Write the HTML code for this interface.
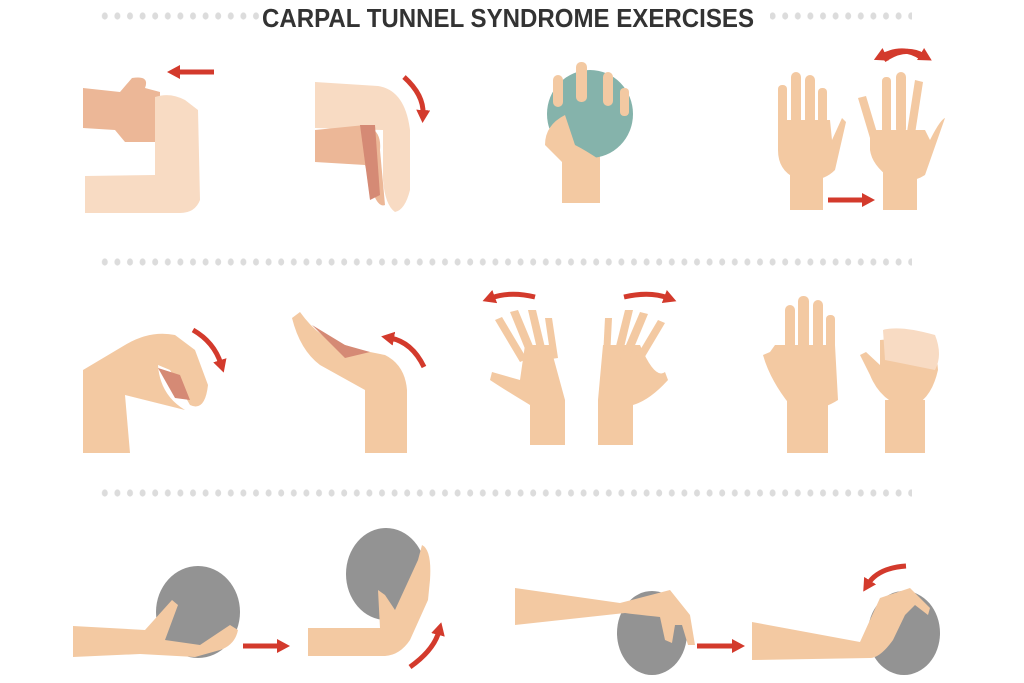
<!DOCTYPE html>
<html><head><meta charset="utf-8"><style>
html,body{margin:0;padding:0;background:#fff}
svg{display:block}
</style></head><body>
<svg width="1024" height="683" viewBox="0 0 1024 683" xmlns="http://www.w3.org/2000/svg">
<defs>
<pattern id="dots" x="0" y="0" width="12.6" height="683" patternUnits="userSpaceOnUse">
<ellipse cx="4" cy="16" rx="3" ry="3.6" fill="#dcdcdc"/>
<ellipse cx="4" cy="262" rx="3" ry="3.6" fill="#dcdcdc"/>
<ellipse cx="4" cy="493" rx="3" ry="3.6" fill="#dcdcdc"/>
</pattern>
<marker id="ah" markerUnits="userSpaceOnUse" markerWidth="13" markerHeight="14" refX="4" refY="7" orient="auto"><path d="M0,0 L13,7 L0,14 z" fill="#d33a2c"/></marker>
</defs>
<!-- dots -->
<rect x="96" y="10" width="164" height="12" fill="url(#dots)"/>
<rect x="770" y="10" width="142" height="12" fill="url(#dots)"/>
<rect x="96" y="256" width="816" height="12" fill="url(#dots)"/>
<rect x="96" y="487" width="816" height="12" fill="url(#dots)"/>
<text x="508" y="27" text-anchor="middle" font-family="Liberation Sans, sans-serif" font-weight="bold" font-size="26" fill="#333" textLength="492" lengthAdjust="spacingAndGlyphs">CARPAL TUNNEL SYNDROME EXERCISES</text>

<g stroke="#d33a2c" stroke-width="5" fill="none" marker-end="url(#ah)">
<!-- row1 arrows -->
<line x1="214" y1="72" x2="176" y2="72"/>
<path d="M404,77 Q424,95 423,114"/>
<line x1="828" y1="200" x2="866" y2="200"/>
<path d="M884,60 Q905,45 924,56"/>
<path d="M922,58 Q905,45 882,56"/>
<!-- row2 -->
<path d="M193,330 Q214,342 221,364"/>
<path d="M424,367 Q412,342 390,338"/>
<path d="M535,297 Q510,291 491,298"/>
<path d="M624,297 Q650,291 668,298"/>
<!-- row3 -->
<line x1="243" y1="646" x2="281" y2="646"/>
<path d="M410,667 Q434,650 439,631"/>
<line x1="697" y1="646" x2="736" y2="646"/>
<path d="M906,566 Q878,568 868,584"/>
</g>

<!-- Fig1 -->
<path d="M83,88 L120,92 L132,78 Q150,75 145,88 L160,92 L160,142 L125,142 L115,130 L83,128 Z" fill="#ecb797"/>
<path d="M155,97 Q170,92 185,100 L198,110 L200,200 Q195,213 180,213 L85,213 L85,176 L155,175 Z" fill="#f8dbc3"/>
<!-- Fig2 -->
<path d="M315,82 L378,86 Q405,90 410,130 L410,190 Q405,210 395,212 Q385,205 383,180 L383,130 L315,128 Z" fill="#f8dbc3"/>
<path d="M315,130 L365,125 Q382,130 380,150 L385,205 Q378,208 372,190 L365,165 L315,162 Z" fill="#ecb797"/>
<path d="M360,125 L375,125 L380,195 L370,200 Z" fill="#d58a75"/>
<!-- Fig3 -->
<rect x="562" y="150" width="38" height="53" fill="#f3c9a2"/>
<ellipse cx="590" cy="114" rx="43" ry="44" fill="#85b3ab"/>
<path d="M565,115 Q545,125 545,145 L565,165 L600,160 Q585,150 575,145 Z" fill="#f3c9a2"/>
<rect x="553" y="75" width="10" height="32" rx="5" fill="#f3c9a2"/>
<rect x="576" y="62" width="11" height="40" rx="5" fill="#f3c9a2"/>
<rect x="603" y="72" width="10" height="34" rx="5" fill="#f3c9a2"/>
<rect x="620" y="88" width="9" height="28" rx="4" fill="#f3c9a2"/>
<!-- Fig4 -->
<g fill="#f3c9a2">
<rect x="790" y="170" width="33" height="40" />
<path d="M778,120 L830,120 L832,140 L842,118 L846,122 L835,170 Q820,185 795,178 Q778,170 778,150 Z"/>
<rect x="778" y="85" width="9" height="50" rx="4"/><rect x="791" y="72" width="10" height="60" rx="5"/><rect x="805" y="75" width="10" height="58" rx="5"/><rect x="818" y="88" width="9" height="45" rx="4"/>
<rect x="883" y="170" width="34" height="40"/>
<path d="M870,130 L925,130 L930,140 Q940,120 945,118 L925,175 Q910,185 890,178 Q872,165 870,150 Z"/>
<path d="M858,98 l8,-2 l12,40 l-8,2 z"/><rect x="882" y="77" width="9" height="60" rx="4"/><rect x="896" y="72" width="10" height="62" rx="5"/><path d="M915,80 l8,2 l-8,52 l-8,-2 z"/>
</g>
<!-- Fig5 -->
<path d="M83,370 L125,345 Q150,330 175,335 L195,350 L208,385 Q205,412 190,405 L170,370 L158,365 Q160,395 185,410 L125,395 L130,453 L83,453 Z" fill="#f3c9a2"/>
<path d="M158,368 L180,375 L190,400 L175,398 Z" fill="#d58a75"/>
<!-- Fig6 -->
<path d="M365,453 L365,390 L320,365 Q300,350 292,318 L300,312 Q320,340 345,345 L360,350 L385,355 Q405,365 407,390 L407,453 Z" fill="#f3c9a2"/>
<path d="M312,325 L345,345 L370,352 L345,358 Z" fill="#d58a75"/>
<!-- Fig7 -->
<g fill="#f3c9a2">
<rect x="530" y="400" width="35" height="45"/>
<path d="M525,345 L550,345 L565,400 L530,405 Q505,390 490,380 L492,372 L520,380 Z"/>
<path d="M495,320 l7,-3 l25,42 l-7,3 z"/><path d="M510,312 l8,-2 l20,48 l-8,3 z"/><path d="M528,310 l8,0 l12,50 l-8,2 z"/><path d="M545,318 l7,0 l6,40 l-7,1 z"/>
<rect x="598" y="400" width="35" height="45"/>
<path d="M603,345 L640,345 Q655,380 665,372 L668,380 Q650,400 633,405 L598,400 Z"/>
<path d="M605,318 l7,0 l-2,40 l-7,-1 z"/><path d="M625,310 l8,0 l-12,50 l-8,-2 z"/><path d="M640,312 l8,2 l-20,48 l-8,-3 z"/><path d="M658,320 l7,3 l-25,42 l-7,-3 z"/>
</g>
<!-- Fig8 -->
<g fill="#f3c9a2">
<rect x="787" y="400" width="41" height="53"/>
<path d="M775,345 L835,345 L838,400 Q815,415 790,405 Q770,380 763,355 L770,352 Z"/>
<rect x="785" y="305" width="10" height="50" rx="5"/><rect x="798" y="296" width="11" height="58" rx="5"/><rect x="813" y="300" width="10" height="55" rx="5"/><rect x="826" y="315" width="9" height="40" rx="4"/>
<rect x="885" y="400" width="40" height="53"/>
<path d="M880,340 L935,335 L938,370 Q930,405 905,408 Q880,400 870,375 L860,355 L866,352 L880,365 Z"/>
</g>
<path d="M883,330 Q900,325 935,335 Q943,355 935,370 L885,360 Z" fill="#f8dbc3"/>
<!-- Fig9 -->
<ellipse cx="198" cy="612" rx="42" ry="46" fill="#939393"/>
<path d="M73,626 L145,630 L172,600 L178,605 L165,640 L200,645 L230,625 L238,630 Q235,645 220,650 L195,657 L140,654 L73,657 Z" fill="#f3c9a2"/>
<!-- Fig10 -->
<ellipse cx="386" cy="574" rx="40" ry="46" fill="#939393"/>
<path d="M308,628 L380,628 L378,590 L385,595 L395,610 L418,560 L422,545 Q432,550 430,580 L428,600 L410,640 Q400,655 385,656 L308,656 Z" fill="#f3c9a2"/>
<!-- Fig11 -->
<ellipse cx="652" cy="633" rx="35" ry="42" fill="#939393"/>
<path d="M515,588 L620,603 L670,590 L690,615 L695,645 L688,645 L682,625 L675,625 L672,643 L665,640 L660,617 Q640,615 625,613 L515,625 Z" fill="#f3c9a2"/>
<!-- Fig12 -->
<ellipse cx="904" cy="633" rx="36" ry="42" fill="#939393"/>
<path d="M752,622 L860,642 L880,598 L910,588 L930,608 L928,615 L915,605 L905,615 L893,640 Q880,658 870,658 L752,660 Z" fill="#f3c9a2"/>
</svg>
</body></html>
